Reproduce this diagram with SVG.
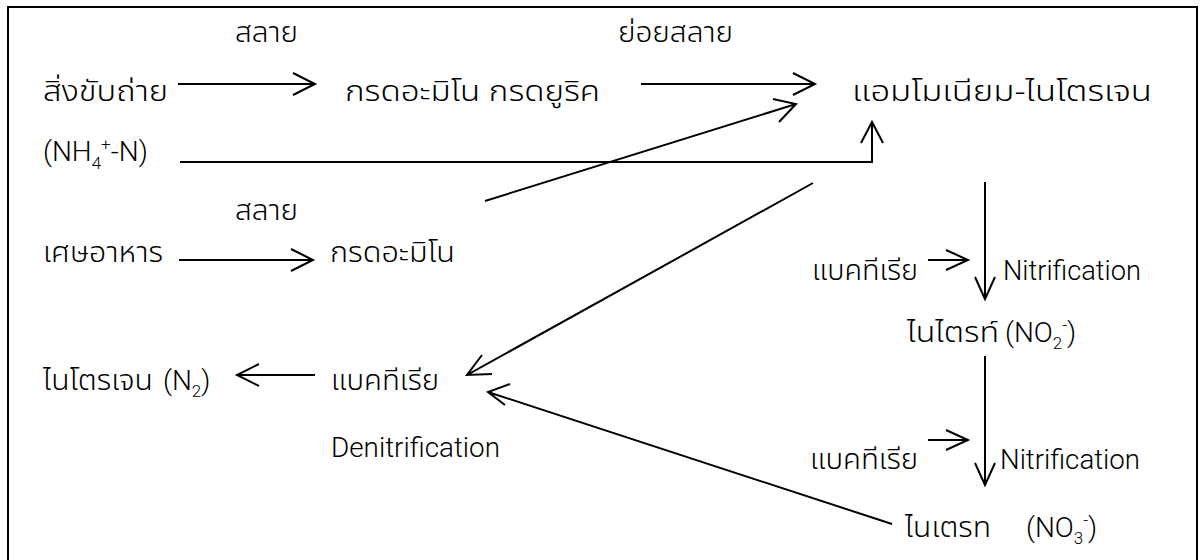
<svg xmlns="http://www.w3.org/2000/svg" width="1201" height="560" viewBox="0 0 1201 560">
<style>
.t{font-family:"Noto Sans Thai","Tahoma","DejaVu Sans",sans-serif;font-size:29px;font-weight:300;fill:#000}
.l{font-family:Roboto,"Liberation Sans",Arial,sans-serif;font-size:28px;font-weight:300;fill:#000}
.s{font-size:17px}
.c{fill:none;stroke:#000;stroke-width:2}
</style>
<rect width="1201" height="560" fill="#fff"/>
<path class="c" d="M8,560 V7 H1197 V560" stroke-width="2.5"/>
<g id="labels">
<text class="t" x="235" y="42" textLength="63" lengthAdjust="spacingAndGlyphs">สลาย</text>
<text class="t" x="618" y="42" textLength="115" lengthAdjust="spacingAndGlyphs">ย่อยสลาย</text>
<text class="t" x="235" y="220" textLength="63" lengthAdjust="spacingAndGlyphs">สลาย</text>
</g>
<g id="n-excreta"><text class="t" x="43" y="101" textLength="125" lengthAdjust="spacingAndGlyphs">สิ่งขับถ่าย</text></g>
<g id="n-aminouric"><text class="t" x="345" y="101" textLength="255" lengthAdjust="spacingAndGlyphs">กรดอะมิโน กรดยูริค</text></g>
<g id="n-ammonium"><text class="t" x="852" y="101" textLength="300" lengthAdjust="spacingAndGlyphs">แอมโมเนียม-ไนโตรเจน</text></g>
<g id="n-nh4"><text class="l" x="43" y="161">(NH<tspan class="s" dy="8">4</tspan><tspan class="s" dy="-19">+</tspan><tspan dy="11">-N)</tspan></text></g>
<g id="n-food"><text class="t" x="43" y="262" textLength="120" lengthAdjust="spacingAndGlyphs">เศษอาหาร</text></g>
<g id="n-amino"><text class="t" x="330" y="262" textLength="125" lengthAdjust="spacingAndGlyphs">กรดอะมิโน</text></g>
<g id="n-n2"><text class="t" x="43" y="390" textLength="110" lengthAdjust="spacingAndGlyphs">ไนโตรเจน</text><text class="l" x="163" y="390">(N<tspan class="s" dy="7">2</tspan><tspan dy="-7">)</tspan></text></g>
<g id="n-bact-denit"><text class="t" x="331" y="390" textLength="108" lengthAdjust="spacingAndGlyphs">แบคทีเรีย</text><text class="l" x="331" y="457" textLength="169" lengthAdjust="spacingAndGlyphs">Denitrification</text></g>
<g id="n-bact1"><text class="t" x="812" y="280" textLength="106" lengthAdjust="spacingAndGlyphs">แบคทีเรีย</text><text class="l" x="1003" y="280" textLength="138" lengthAdjust="spacingAndGlyphs">Nitrification</text></g>
<g id="n-nitrite"><text class="t" x="907" y="342" textLength="92" lengthAdjust="spacingAndGlyphs">ไนไตรท์</text><text class="l" x="1005" y="342">(NO<tspan class="s" dy="7">2</tspan><tspan class="s" dy="-18">-</tspan><tspan dy="11">)</tspan></text></g>
<g id="n-bact2"><text class="t" x="810" y="469" textLength="108" lengthAdjust="spacingAndGlyphs">แบคทีเรีย</text><text class="l" x="1000" y="469" textLength="140" lengthAdjust="spacingAndGlyphs">Nitrification</text></g>
<g id="n-nitrate"><text class="t" x="905" y="537" textLength="86" lengthAdjust="spacingAndGlyphs">ไนเตรท</text><text class="l" x="1026" y="537">(NO<tspan class="s" dy="7">3</tspan><tspan class="s" dy="-18">-</tspan><tspan dy="11">)</tspan></text></g>
<g id="connectors" class="c">
<path d="M178,84 H315 M293,73 L315,84 L293,95"/>
<path d="M641,84 H815 M793,73 L815,84 L793,95"/>
<path d="M180,162 H872 V122 M861,143 L872,122 L883,143"/>
<path d="M485,201 L796,104 M773,99 L796,104 L779,122"/>
<path d="M179,260 H313 M291,249 L313,260 L291,271"/>
<path d="M813,183 L467,375 M482,355 L467,375 L492,374"/>
<path d="M315,375 H237 M259,364 L237,375 L259,386"/>
<path d="M892,524 L488,392 M510,384 L488,392 L505,405"/>
<path d="M985,182 V299 M975,277 L985,299 L995,277"/>
<path d="M928,260 H968 M946,250 L968,260 L946,270"/>
<path d="M985,356 V485 M975,463 L985,485 L995,463"/>
<path d="M928,440 H968 M946,430 L968,440 L946,450"/>
</g>
</svg>
